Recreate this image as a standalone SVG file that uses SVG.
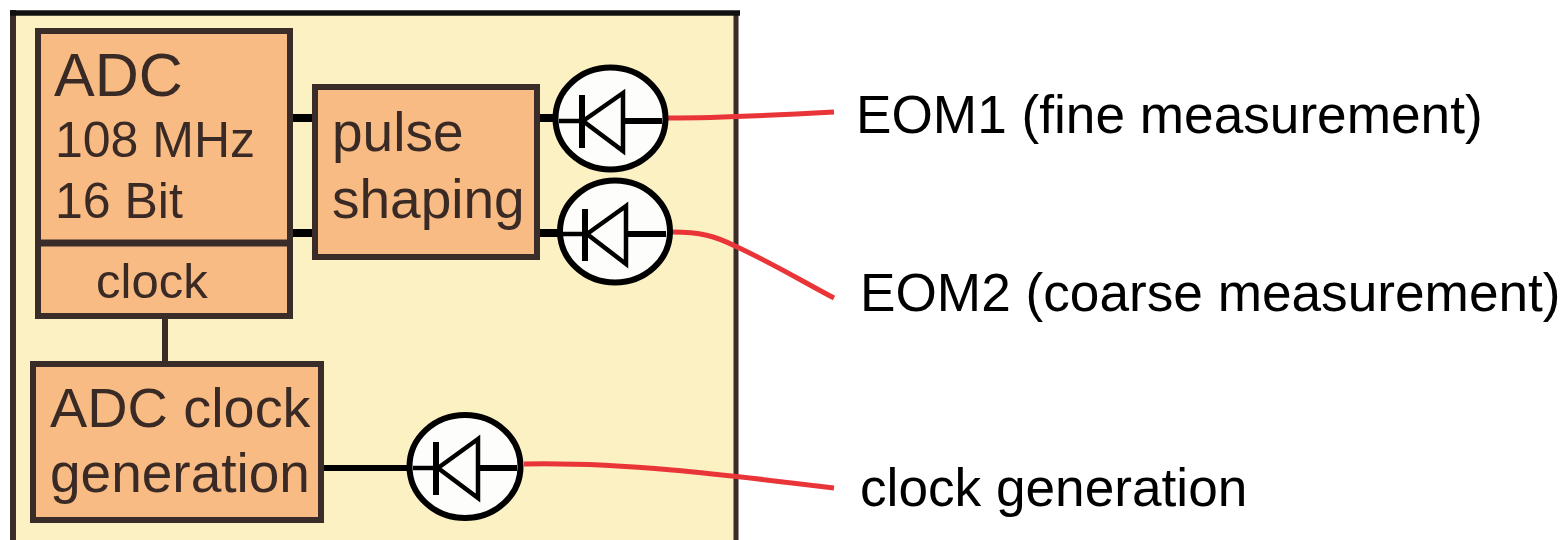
<svg xmlns="http://www.w3.org/2000/svg" width="1567" height="540" viewBox="0 0 1567 540">
<style>
text{font-family:"Liberation Sans",Arial,sans-serif}
.in{fill:#3a2a25}
.out{fill:#000;font-size:53.2px}
.box{fill:#f8bb83;stroke:#3a2c28;stroke-width:6}
.k{stroke:#000;fill:none}
.d{stroke:#3a2c28;fill:none}
.r{stroke:#ea3538;stroke-width:5;fill:none}
.c{fill:#fdfdfb;stroke:#000;stroke-width:6}
.w{stroke:#000;stroke-width:4.5;fill:none}
.b{stroke:#000;stroke-width:6;fill:none}
</style>
<rect x="0" y="0" width="1567" height="540" fill="#fff"/>
<g id="panel">
<rect x="13" y="13" width="723" height="527" fill="#fbf1c2"/>
<path d="M13 540V10" stroke="#3a2c28" stroke-width="6" fill="none"/>
<path d="M736 540V13" stroke="#3a2c28" stroke-width="5" fill="none"/>
<path d="M10 13H740" stroke="#111" stroke-width="5.5" fill="none"/>
</g>
<g id="connectors">
<path class="k" stroke-width="8" d="M291 118H315M291 233H315"/>
<path class="k" stroke-width="8" d="M536 118H556M537 233H560"/>
<path class="d" stroke-width="6" d="M165 316V364"/>
<path class="k" stroke-width="6" d="M321 468H410"/>
<path class="r" d="M668 118C720 118 780 115 834 112"/>
<path class="r" d="M672 232C700 232 715 236 735 246C770 262 800 280 834 298"/>
<path class="r" d="M524 464C620 462 720 474 834 488"/>
</g>
<g id="adc">
<rect class="box" x="38" y="31" width="252" height="285"/>
<path class="d" stroke-width="7" d="M38 243H290"/>
<text class="in" x="54" y="96" font-size="61">ADC</text>
<text class="in" x="55" y="157" font-size="50">108 MHz</text>
<text class="in" x="55" y="218" font-size="50">16 Bit</text>
<text class="in" x="96" y="298" font-size="49">clock</text>
</g>
<g id="pulse-shaping">
<rect class="box" x="315" y="87" width="222" height="170"/>
<text class="in" x="332" y="151" font-size="55">pulse</text>
<text class="in" x="332" y="218" font-size="55">shaping</text>
</g>
<g id="adc-clock-generation">
<rect class="box" x="33" y="364" width="288" height="156"/>
<text class="in" x="50" y="427" font-size="55.8">ADC clock</text>
<text class="in" x="50" y="492" font-size="55">generation</text>
</g>
<g id="diode1">
<ellipse class="c" cx="610.5" cy="118.5" rx="55" ry="51"/>
<path class="w" d="M559 121H581"/>
<path class="b" d="M625 121H662"/>
<path class="b" d="M582 95V148"/>
<path class="w" d="M623 93L583 121L623 151Z"/>
</g>
<g id="diode2">
<ellipse class="c" cx="615" cy="231.5" rx="55" ry="51"/>
<path class="w" d="M563 234H585"/>
<path class="b" d="M628 234H666"/>
<path class="b" d="M585 209V261"/>
<path class="w" d="M626 206L587 234L626 264Z"/>
</g>
<g id="diode3">
<ellipse class="c" cx="465" cy="466.5" rx="55.5" ry="51.5"/>
<path class="w" d="M413 468H436"/>
<path class="b" d="M478 468H517"/>
<path class="b" d="M436 442V495"/>
<path class="w" d="M478 439L438 468L478 498Z"/>
</g>
<g id="labels">
<text class="out" x="856" y="133">EOM1 (fine measurement)</text>
<text class="out" x="860" y="311">EOM2 (coarse measurement)</text>
<text class="out" x="860" y="506">clock generation</text>
</g>
</svg>
